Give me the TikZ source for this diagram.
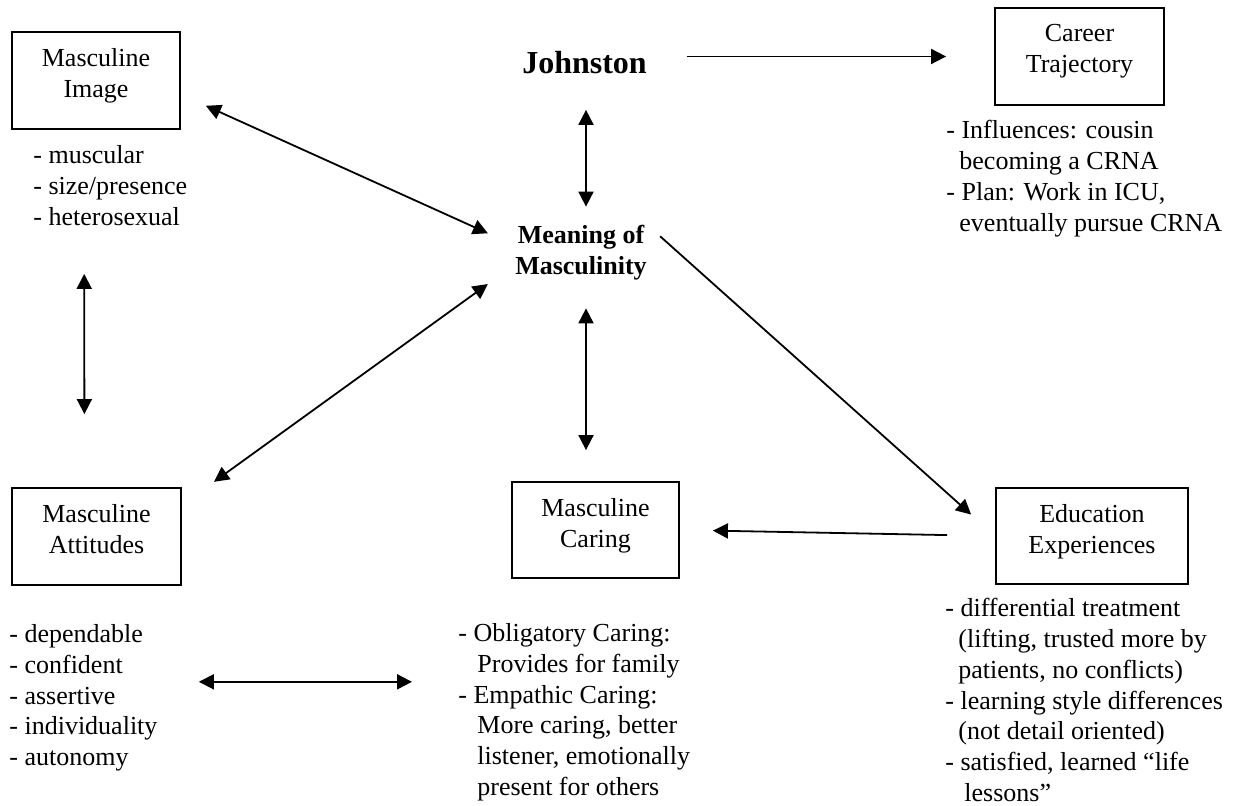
\documentclass[tikz,border=0pt]{standalone}
\usepackage{fontspec}
\setmainfont{Liberation Serif}
\usetikzlibrary{arrows.meta, positioning}

\begin{document}
\begin{tikzpicture}[x=0.5pt, y=-0.5pt,
  box/.style={draw, line width=0.9pt, minimum width=84pt, minimum height=48.5pt, inner sep=0pt},
  boxtext/.style={anchor=north, yshift=-8.5pt, inner sep=0pt, align=center, font=\fontsize{13}{15.5}\selectfont},
  bullets/.style={anchor=north west, inner sep=0pt, align=left, font=\fontsize{13}{15.4}\selectfont},
  arr/.style={line width=0.9pt, -{Triangle[length=7.5pt, width=7.5pt]}},
  dbl/.style={line width=0.9pt, {Triangle[length=7.5pt, width=7.5pt]}-{Triangle[length=7.5pt, width=7.5pt]}}
]
  \useasboundingbox (0,0) rectangle (1241,806);

  % boxes
  \node[box, label={[boxtext]north:Masculine\\Image}] (mi) at (96,80.5) {};
  \node[box, minimum width=84.5pt, label={[boxtext]north:Career\\Trajectory}] (cr) at (1079.5,56.5) {};
  \node[box, minimum width=84.5pt, label={[boxtext]north:Masculine\\Attitudes}] (ma) at (96.5,536.5) {};
  \node[box, minimum width=83.5pt, minimum height=48pt, label={[boxtext]north:Masculine\\Caring}] (mc) at (595.5,530) {};
  \node[box, minimum width=96pt, minimum height=48pt, label={[boxtext]north:Education\\Experiences}] (ed) at (1092,536) {};

  % centre texts
  \node[font=\bfseries\fontsize{16}{19}\selectfont, inner sep=0pt] (jo) at (584.5,63) {Johnston};
  \node[font=\bfseries\fontsize{13}{15.5}\selectfont, align=center, inner sep=0pt] (mm) at (581,252.5) {Meaning of\\Masculinity};

  % lists
  \node[bullets] (miL) at (33,145) {- muscular\\- size/presence\\- heterosexual};
  \node[bullets] (crL) at (946,120) {- Influences: cousin\\\hspace*{6.5pt}becoming a CRNA\\- Plan: Work in ICU,\\\hspace*{6.5pt}eventually pursue CRNA};
  \node[bullets] (maL) at (9,624) {- dependable\\- confident\\- assertive\\- individuality\\- autonomy};
  \node[bullets] (mcL) at (458,623) {- Obligatory Caring:\\\hspace*{9.5pt}Provides for family\\- Empathic Caring:\\\hspace*{9.5pt}More caring, better\\\hspace*{9.5pt}listener, emotionally\\\hspace*{9.5pt}present for others};
  \node[bullets] (edL) at (945,598) {- differential treatment\\\hspace*{6.5pt}(lifting, trusted more by\\\hspace*{6.5pt}patients, no conflicts)\\- learning style differences\\\hspace*{6.5pt}(not detail oriented)\\- satisfied, learned “life\\\hspace*{9.5pt}lessons”};

  % connectors
  \draw[arr, shorten <=20pt, shorten >=24pt] (jo.east |- cr.west) -- (cr.west);
  \draw[dbl, shorten <=17.6pt, shorten >=9pt] ([xshift=2.5pt]mm.north |- jo.south) -- ([xshift=2.5pt]mm.north);
  \draw[dbl, shorten <=13.7pt, shorten >=14.8pt] ([yshift=-7pt]mi.east) -- ([yshift=3.5pt]mm.west);
  \draw[dbl, shorten <=72pt, shorten >=36.5pt] ([xshift=-6pt]mi.south) -- ([xshift=-6pt]ma.north);
  \draw[dbl, shorten <=16.7pt, shorten >=19.8pt] ([yshift=-6pt]mm.west) -- ([yshift=15.75pt]ma.east);
  \draw[dbl, shorten <=14pt, shorten >=15.5pt] ([xshift=2.5pt]mm.south) -- ([xshift=2.5pt]mm.south |- mc.north);
  \draw[arr, shorten <=8.7pt, shorten >=16.1pt] (mm.north east) -- (ed.west);
  \draw[arr, shorten <=24pt, shorten >=16.5pt] (ed.west) -- (mc.east);
  \draw[dbl, shorten <=20.5pt, shorten >=23pt] ([yshift=8pt]maL.east) -- ([yshift=8pt]maL.east -| mcL.west);
\end{tikzpicture}
\end{document}
